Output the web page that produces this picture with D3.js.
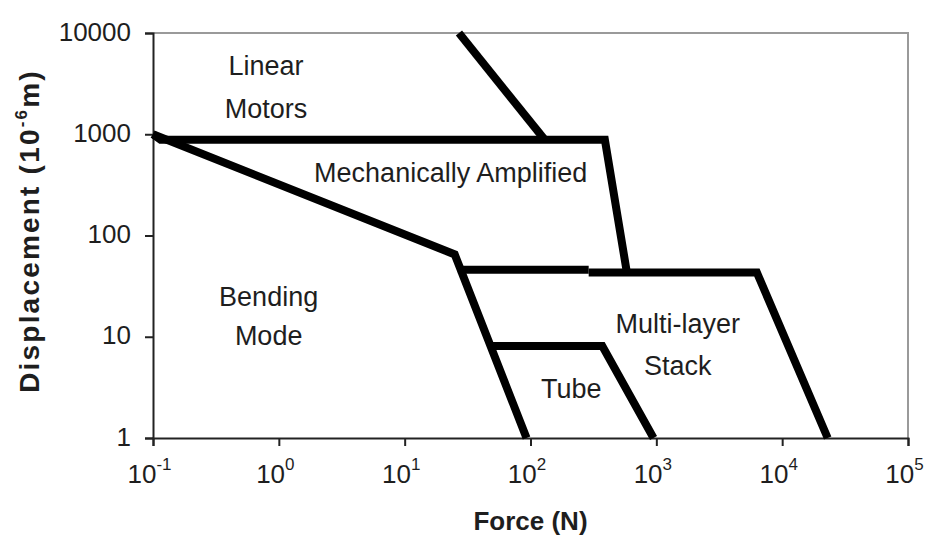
<!DOCTYPE html>
<html>
<head>
<meta charset="utf-8">
<script src="https://cdn.jsdelivr.net/npm/d3@7"></script>
<style>
  html, body { margin: 0; padding: 0; background: #fff; }
  svg { display: block; }
  text { font-family: "Liberation Sans", Arial, sans-serif; }
</style>
</head>
<body>
<svg id="chart" width="928" height="553"></svg>
<script>
// ---- data (force in N, displacement in 1e-6 m) ----
const xTickValues = [0.1, 1, 10, 100, 1000, 10000, 100000];
const xTickExponents = ["-1", "0", "1", "2", "3", "4", "5"];
const yTickValues = [1, 10, 100, 1000, 10000];
const yTickLabels = ["1", "10", "100", "1000", "10000"];

const linearMotorsEdge = [[27, 10000], [130, 880]];
const mechAmpEdge = [[0.1, 1000], [0.115, 880], [390, 880], [580, 45]];
const bendingEdge = [[0.1, 1000], [25, 65], [93, 1]];
const stackTopLeft = [[26.5, 46], [290, 46]];
const stackEdge = [[290, 43], [6300, 43], [23000, 1]];
const tubeEdge = [[47, 8.1], [372, 8.1], [950, 1]];

const regionNames = ["Linear", "Motors", "Mechanically Amplified", "Bending", "Mode", "Multi-layer", "Stack", "Tube"];
const regionForce = [0.79, 0.79, 23.2, 0.83, 0.83, 1480, 1480, 211];
const regionDisp = [3870, 1455, 340, 20.2, 8.3, 10.9, 4.2, 2.49];

// ---- layout ----
const svg = d3.select("#chart");
const x = d3.scaleLog().domain([0.1, 100000]).range([153, 908]);
const y = d3.scaleLog().domain([1, 10000]).range([438, 33]);

// frame (top & right, gray)
svg.append("path")
  .attr("d", `M${x(0.1)},${y(10000)}H${x(100000)}V${y(1)}`)
  .attr("fill", "none").attr("stroke", "#9a9a9a").attr("stroke-width", 2);

// left axis
const yAxis = svg.append("g").attr("transform", `translate(${x(0.1)},0)`)
  .call(d3.axisLeft(y).tickValues(yTickValues).tickSize(8).tickPadding(14)
    .tickFormat((d, i) => yTickLabels[i]));
yAxis.select(".domain").attr("stroke", "#222").attr("stroke-width", 2);
yAxis.selectAll(".tick line").attr("stroke", "#222").attr("stroke-width", 2);
yAxis.selectAll(".tick text")
  .attr("font-size", 26).attr("fill", "#1e1e1e")
  .attr("font-family", "Liberation Sans, Arial, sans-serif")
  .attr("dy", "0.27em");

// bottom axis
const xAxis = svg.append("g").attr("transform", `translate(0,${y(1)})`)
  .call(d3.axisBottom(x).tickValues(xTickValues).tickSize(8).tickFormat(""));
xAxis.select(".domain").attr("stroke", "#222").attr("stroke-width", 2);
xAxis.selectAll(".tick line").attr("stroke", "#222").attr("stroke-width", 2);
xAxis.selectAll(".tick").each(function(d, i) {
  const t = d3.select(this).append("text")
    .attr("x", -4).attr("y", 45).attr("text-anchor", "middle")
    .attr("font-size", 26).attr("fill", "#1e1e1e")
    .attr("font-family", "Liberation Sans, Arial, sans-serif");
  t.append("tspan").text("10");
  t.append("tspan").attr("font-size", 17).attr("dy", -13).text(xTickExponents[i]);
});

// boundary lines
const line = d3.line().x(d => x(d[0])).y(d => y(d[1]));
const edges = [linearMotorsEdge, mechAmpEdge, bendingEdge, stackTopLeft, stackEdge, tubeEdge];
svg.append("g").selectAll("path").data(edges).join("path")
  .attr("d", line)
  .attr("fill", "none").attr("stroke", "#000").attr("stroke-width", 8)
  .attr("stroke-linejoin", "miter").attr("stroke-linecap", "butt");

// region labels
svg.append("g").selectAll("text").data(regionNames).join("text")
  .attr("x", (d, i) => x(regionForce[i]))
  .attr("y", (d, i) => y(regionDisp[i]))
  .attr("text-anchor", "middle")
  .attr("font-size", 27).attr("fill", "#1e1e1e")
  .text(d => d);

// axis titles
svg.append("text")
  .attr("x", x(Math.sqrt(0.1 * 100000))).attr("y", 530)
  .attr("text-anchor", "middle").attr("font-size", 26).attr("font-weight", "bold")
  .attr("fill", "#1e1e1e").text("Force (N)");

const yt = svg.append("text")
  .attr("transform", `translate(39,231) rotate(-90)`)
  .attr("text-anchor", "middle").attr("font-size", 28).attr("font-weight", "bold")
  .attr("letter-spacing", 2.2)
  .attr("fill", "#1e1e1e");
yt.append("tspan").text("Displacement (10");
yt.append("tspan").attr("font-size", 17).attr("dy", -12).text("-6");
yt.append("tspan").attr("dy", 12).text("m)");
</script>
</body>
</html>
